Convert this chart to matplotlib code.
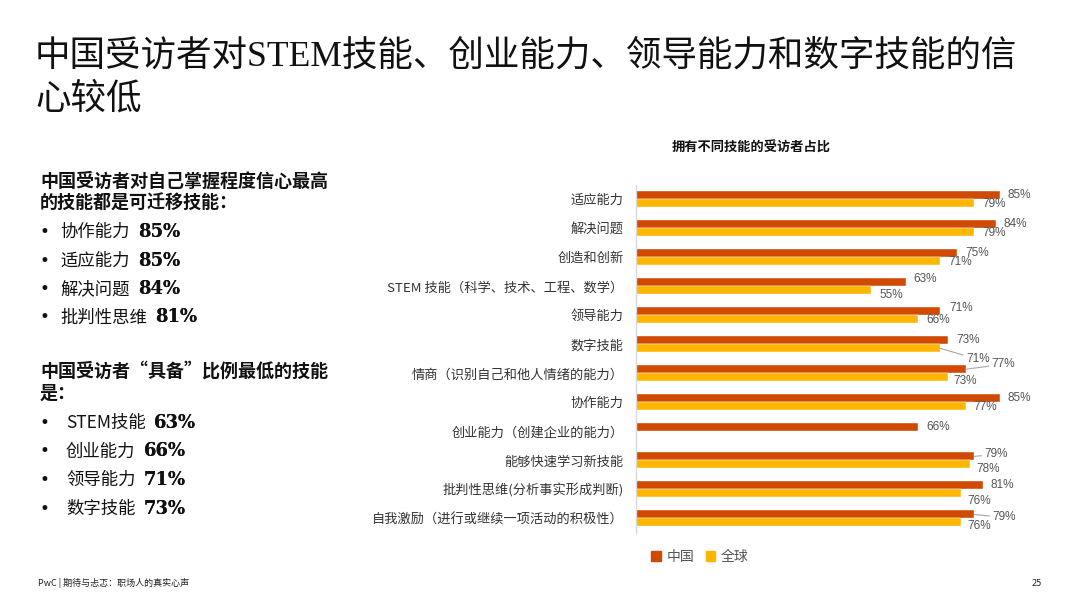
import matplotlib
matplotlib.use("Agg")
import matplotlib.pyplot as plt
from matplotlib.patches import Patch
import numpy as np

plt.rcParams['font.family'] = ['Noto Sans CJK SC', 'DejaVu Sans']

# ---------------- data ----------------
categories = ['适应能力', '解决问题', '创造和创新', 'STEM 技能（科学、技术、工程、数学）',
              '领导能力', '数字技能', '情商（识别自己和他人情绪的能力）', '协作能力',
              '创业能力（创建企业的能力）', '能够快速学习新技能',
              '批判性思维(分析事实形成判断)', '自我激励（进行或继续一项活动的积极性）']
china = [85, 84, 75, 63, 71, 73, 77, 85, 66, 79, 81, 79]
global_ = [79, 79, 71, 55, 66, 71, 73, 77, np.nan, 78, 76, 76]
series_names = ['中国', '全球']

top_skills = ['协作能力', '适应能力', '解决问题', '批判性思维']
top_vals = [85, 85, 84, 81]
low_skills = ['STEM技能', '创业能力', '领导能力', '数字技能']
low_vals = [63, 66, 71, 73]

title = '中国受访者对STEM技能、创业能力、领导能力和数字技能的信\n心较低'
chart_title = '拥有不同技能的受访者占比'
head1 = '中国受访者对自己掌握程度信心最高\n的技能都是可迁移技能：'
head2 = '中国受访者“具备”比例最低的技能\n是：'
footer = 'PwC | 期待与忐忑：职场人的真实心声'
page = '25'

C_CN = '#D04A02'
C_GL = '#FFB600'

W, H = 1080, 608
fig = plt.figure(figsize=(W / 100, H / 100), dpi=100)
fig.patch.set_facecolor('white')

def fx(px):
    return px / W

def fy(py):
    return 1 - py / H

# ---------------- main title ----------------
fig.text(fx(35), fy(40), title, ha='left', va='top', fontsize=25.6,
         family=['Liberation Serif', 'Noto Sans CJK SC'], color='#111111',
         linespacing=1.38)

# ---------------- left panel ----------------
def bullets(y0, skills, vals, xtext):
    for i, (s, v) in enumerate(zip(skills, vals)):
        yy = y0 + i * 28.5
        fig.text(fx(40), fy(yy), '•', ha='left', va='center', fontsize=12,
                 family=['DejaVu Sans'], color='#111111')
        t = fig.text(fx(xtext), fy(yy), s, ha='left', va='center', fontsize=12.5,
                     color='#111111')
        ann = plt.annotate(f'{v}%', xy=(1, 0.5), xycoords=t, xytext=(6, 0),
                           textcoords='offset points', ha='left', va='center',
                           fontsize=13, fontweight='bold', family=['DejaVu Serif'],
                           color='#111111', annotation_clip=False)
        fig.add_artist(ann)

fig.text(fx(40), fy(172), head1, ha='left', va='top', fontsize=13,
         fontweight='bold', color='#111111', linespacing=1.15)
fig.text(fx(40), fy(362), head2, ha='left', va='top', fontsize=13,
         fontweight='bold', color='#111111', linespacing=1.15)

# ---------------- chart ----------------
ax = fig.add_axes([fx(636), fy(533), fx(1064) - fx(636), (533 - 184.5) / H])
n = len(categories)
y = np.arange(n)
bh = 0.276
ax.barh(y - bh / 2, china, height=bh, color=C_CN, edgecolor='white', linewidth=0.3,
        label=series_names[0])
gl = np.array(global_, dtype=float)
mask = ~np.isnan(gl)
ax.barh(y[mask] + bh / 2, gl[mask], height=bh, color=C_GL, edgecolor='white',
        linewidth=0.3, label=series_names[1])
ax.set_xlim(0, 100)
ax.set_ylim(n - 0.5, -0.5)
ax.set_xticks([])
ax.set_yticks(y)
ax.set_yticklabels(categories, fontsize=9.5, color='#333333')
ax.tick_params(axis='y', length=0, pad=9)
for s in ['top', 'right', 'bottom']:
    ax.spines[s].set_visible(False)
ax.spines['left'].set_color('#d9d9d9')
ax.spines['left'].set_linewidth(1)

cn_off = {3: (8, 3), 4: (9, 3), 6: (26, 5), 9: (10, 2), 11: (18, -3)}
gl_off = {3: (8, -5), 5: (26, -11), 6: (5, -4), 9: (7, -5), 10: (6, -8), 11: (6, -4)}
cn_leader = {6, 9, 11}
gl_leader = {5}

def label(xv, yv, off, leader):
    kw = dict(xy=(xv, yv), xytext=off, textcoords='offset pixels', ha='left',
              va='center', fontsize=8.5, family=['Liberation Sans'], color='#555555',
              annotation_clip=False)
    if leader:
        kw['arrowprops'] = dict(arrowstyle='-', color='#a6a6a6', lw=0.8,
                                shrinkA=0, shrinkB=0)
    ax.annotate(f'{int(xv)}%', **kw)

for i in range(n):
    label(china[i], y[i] - bh / 2, cn_off.get(i, (8, 0)), i in cn_leader)
    if not np.isnan(gl[i]):
        label(gl[i], y[i] + bh / 2, gl_off.get(i, (8, -1)), i in gl_leader)

fig.text(fx(751), fy(148), chart_title, ha='center', va='center', fontsize=9.5,
         fontweight='bold', color='#111111')

handles = [Patch(color=C_CN), Patch(color=C_GL)]
fig.legend(handles, series_names, loc='center', bbox_to_anchor=(fx(700), fy(557)),
           ncol=2, frameon=False, fontsize=10, handlelength=0.7, handleheight=0.7,
           handletextpad=0.4, columnspacing=0.8, labelcolor='#555555')

# ---------------- footer ----------------
fig.text(fx(38), fy(583), footer, ha='left', va='center', fontsize=6.5, color='#222222')
fig.text(fx(1042), fy(583), page, ha='right', va='center', fontsize=6.5, color='#222222')

bullets(232, top_skills, top_vals, 60)
bullets(423, low_skills, low_vals, 66)

fig.savefig('out.png', dpi=100, facecolor='white')
